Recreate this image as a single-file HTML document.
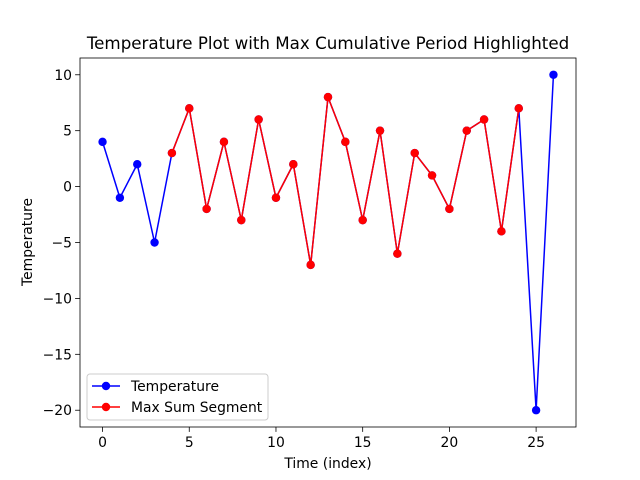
<!DOCTYPE html>
<html><head><meta charset="utf-8"><style>body{margin:0;background:#fff}svg{display:block;font-family:"DejaVu Sans","Liberation Sans",sans-serif}</style></head>
<body>
<svg id="chart" width="640" height="480">
<rect width="640" height="480" fill="#fff"/>
<g id="plot"></g>
</svg>
<script>
const temps=[4,-1,2,-5,3,7,-2,4,-3,6,-1,2,-7,8,4,-3,5,-6,3,1,-2,5,6,-4,7,-20,10];
const segStart=4;
const segEnd=24;
const xTicks=[0,5,10,15,20,25];
const yTicks=[10,5,0,-5,-10,-15,-20];
const L=80,R=576,T=58,B=427,xmin=-1.3,xmax=27.3,ymin=-21.5,ymax=11.5;
const sx=v=>L+(v-xmin)/(xmax-xmin)*(R-L);
const sy=v=>B-(v-ymin)/(ymax-ymin)*(B-T);
const ns="http://www.w3.org/2000/svg";
const g=document.getElementById('plot');
function mk(t,a,p){const e=document.createElementNS(ns,t);for(const k in a)e.setAttribute(k,a[k]);(p||g).appendChild(e);return e;}
function line(idx,color,name){
  const pts=idx.map(i=>sx(i)+','+sy(temps[i])).join(' ');
  const pl=mk('polyline',{points:pts,fill:'none',stroke:color,'stroke-width':1.5});
  
  
  idx.forEach(i=>{const c=mk('circle',{cx:sx(i),cy:sy(temps[i]),r:4.2,fill:color});
    
    });
}
line(temps.map((_,i)=>i),'#0000ff','temperature');
const seg=[];for(let i=segStart;i<=segEnd;i++)seg.push(i);
line(seg,'#ff0000','max-sum-segment');
const fr=mk('rect',{x:L,y:T,width:R-L,height:B-T,fill:'none',stroke:'#000','stroke-width':0.8});


xTicks.forEach(v=>{mk('line',{x1:sx(v),x2:sx(v),y1:B,y2:B+4.9,stroke:'#000','stroke-width':0.8});
  const t=mk('text',{x:sx(v),y:B+20,'font-size':13.9,'text-anchor':'middle'});t.textContent=v;
  
  });
yTicks.forEach(v=>{mk('line',{x1:L-4.9,x2:L,y1:sy(v),y2:sy(v),stroke:'#000','stroke-width':0.8});
  const t=mk('text',{x:L-8,y:sy(v)+5,'font-size':13.9,'text-anchor':'end'});t.textContent=v<0?'\u2212'+(-v):v;
  
  });
let t=mk('text',{x:328,y:49,'font-size':16.7,'text-anchor':'middle'});t.textContent='Temperature Plot with Max Cumulative Period Highlighted';

t=mk('text',{x:328,y:468,'font-size':13.9,'text-anchor':'middle'});t.textContent='Time (index)';

t=mk('text',{x:0,y:0,'font-size':13.9,'text-anchor':'middle',transform:'translate(32,242) rotate(-90)'});t.textContent='Temperature';

const lg=mk('g',{});
mk('rect',{x:87,y:374,width:181,height:46,rx:3,fill:'#fff',stroke:'#ccc','stroke-width':1},lg);
[['Temperature','#0000ff',386],['Max Sum Segment','#ff0000',407]].forEach(([n,c,y])=>{
  const e=mk('g',{},lg);
  mk('line',{x1:92,x2:120,y1:y,y2:y,stroke:c,'stroke-width':1.5},e);
  mk('circle',{cx:106,cy:y,r:4.2,fill:c},e);
  const tx=mk('text',{x:131,y:y+5,'font-size':13.9},e);tx.textContent=n;});
</script>
</body></html>
